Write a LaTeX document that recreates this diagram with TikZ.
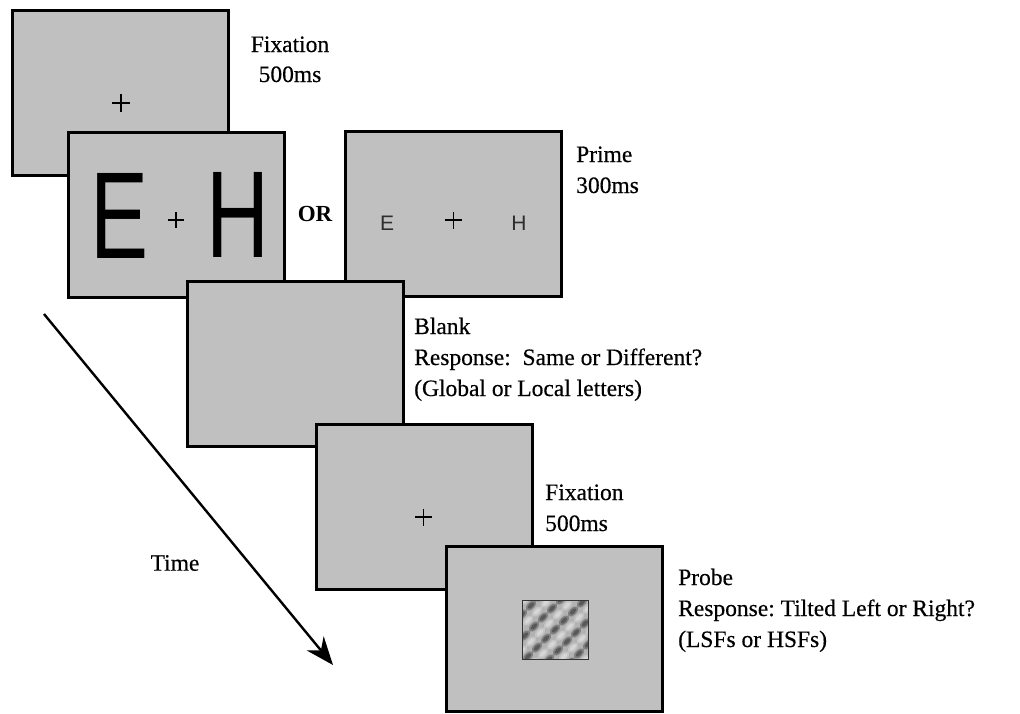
\documentclass[tikz,border=0pt]{standalone}
\usepackage{fontspec}
\setmainfont{Liberation Serif}[FakeBold=0.4]
\newfontfamily\sansfnt{Liberation Sans}
\newfontfamily\orfnt{Liberation Serif}[UprightFont=*-Bold]
\usetikzlibrary{arrows.meta}
\definecolor{scrgray}{RGB}{192,192,192}
\definecolor{letgray}{RGB}{45,45,45}
\begin{document}
\frenchspacing
\begin{tikzpicture}[x=1pt,y=-1pt,
  screen/.style={draw=black, line width=3pt, fill=scrgray, minimum width=216pt, minimum height=165pt, inner sep=0pt},
  lbl/.style={anchor=base west, inner sep=0pt, font=\fontsize{23.5}{27}\selectfont},
  clbl/.style={anchor=base, inner sep=0pt, font=\fontsize{23.5}{27}\selectfont},
  crossline/.style={line width=1.6pt, black},
  timearrow/.style={line width=2.4pt, -{Stealth[length=28pt, width=22pt, inset=9pt]}}
]
\useasboundingbox (0,0) rectangle (1020,713);
\fill[white] (0,0) rectangle (1020,713);

% screen 1: fixation
\node[screen] (s1) at (120,92.5) {};
\draw[crossline] (112,103) -- (130,103);
\draw[crossline] (121,94) -- (121,112);

% screen 2: large letters
\node[screen] (s2) at (176,214.5) {};
\node[inner sep=0pt] (bigE) at (120,215.5) {\resizebox{58pt}{85pt}{\sansfnt E}};
\node[inner sep=0pt] (bigH) at (238,215) {\resizebox{63pt}{85pt}{\sansfnt H}};
\draw[crossline] (168,220) -- (184,220);
\draw[crossline] (176,212) -- (176,228);

% OR
\node[inner sep=0pt, font=\fontsize{23}{27}\orfnt] (orlbl) at (315,214) {OR};

% screen 3: small letters
\node[screen] (s3) at (453.5,213.5) {};
\node[inner sep=0pt, text=letgray, font=\fontsize{21}{24}\sansfnt] (smE) at (387,223) {E};
\node[inner sep=0pt, text=letgray, font=\fontsize{21}{24}\sansfnt] (smH) at (519,223) {H};
\draw[crossline] (445,220) -- (462,220);
\draw[crossline] (453.5,212) -- (453.5,229);

% screen 4: blank
\node[screen] (s4) at (295.5,364) {};

% screen 5: fixation
\node[screen] (s5) at (424.5,507) {};
\draw[crossline] (415,517) -- (432,517);
\draw[crossline] (423.5,508.5) -- (423.5,525.5);

% screen 6: probe
\node[screen] (s6) at (554.5,629) {};
\begin{scope}
  \clip (522,600) rectangle (588,659);
  \fill[gray!60] (522,600) rectangle (588,659);
  \foreach \i in {-5,...,5} {
    \foreach \j in {-6,...,6} {
      \pgfmathsetmacro{\px}{555+\i*9+\j*6}
      \pgfmathsetmacro{\py}{629.5-\i*9+\j*6}
      \ifodd\j
        \fill[white, opacity=0.25, rotate around={45:(\px,\py)}] (\px,\py) ellipse (6.5pt and 3.5pt);
        \fill[white, opacity=0.3, rotate around={45:(\px,\py)}] (\px,\py) ellipse (4pt and 2pt);
      \else
        \fill[black, opacity=0.28, rotate around={45:(\px,\py)}] (\px,\py) ellipse (6.5pt and 3.5pt);
        \fill[black, opacity=0.3, rotate around={45:(\px,\py)}] (\px,\py) ellipse (4pt and 2pt);
      \fi
    }
  }
\end{scope}
\draw[line width=0.8pt, gray!40!black] (522,600) rectangle (588,659);

% labels
\node[clbl] (fixA) at (290,52) {Fixation};
\node[clbl] (fixAt) at (290,82) {500ms};
\node[lbl] (prime) at (576,162) {Prime};
\node[lbl] (primet) at (576,193) {300ms};
\node[lbl] (blank) at (414,334) {Blank};
\node[lbl] (blankr) at (414,365) {Response:\ \ Same or Different?};
\node[lbl] (blankg) at (414,396) {(Global or Local letters)};
\node[lbl] (fixB) at (545,500) {Fixation};
\node[lbl] (fixBt) at (545,531) {500ms};
\node[lbl] (probe) at (678,585) {Probe};
\node[lbl] (prober) at (678,616) {Response: Tilted Left or Right?};
\node[lbl] (probel) at (678,647) {(LSFs or HSFs)};

% time arrow
\coordinate (tstart) at (44,314);
\coordinate (tend) at (333,665);
\draw[timearrow] (tstart) -- (tend);
\node[inner sep=0pt, font=\fontsize{23.5}{27}\selectfont] (timelbl) at (175,563) {Time};
\end{tikzpicture}
\end{document}
